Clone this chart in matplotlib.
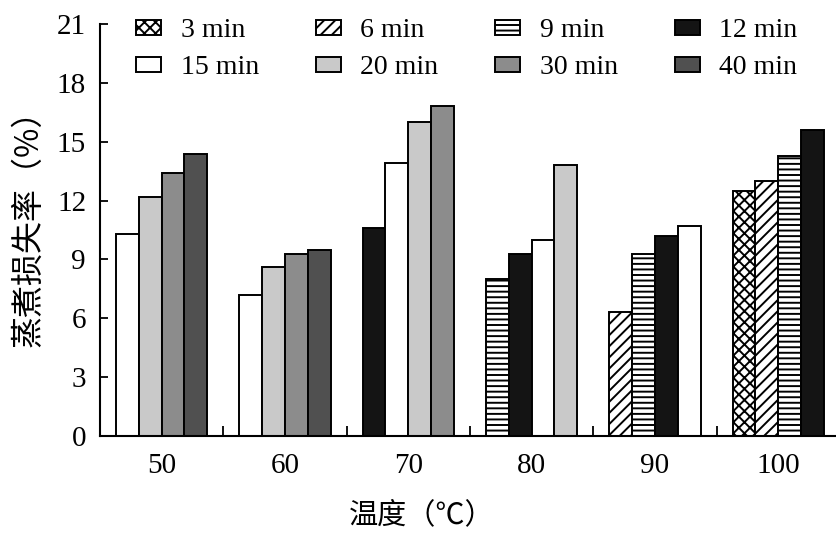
import numpy as np
import matplotlib
matplotlib.use("Agg")
import matplotlib.pyplot as plt

# 蒸煮损失率 data
temps = ["50", "60", "70", "80", "90", "100"]
durations = ["3 min", "6 min", "9 min", "12 min", "15 min", "20 min", "30 min", "40 min"]
nan = np.nan
min3 = [nan, nan, nan, nan, nan, 12.5]
min6 = [nan, nan, nan, nan, 6.3, 13.0]
min9 = [nan, nan, nan, 8.0, 9.3, 14.3]
min12 = [nan, nan, 10.6, 9.3, 10.2, 15.6]
min15 = [10.3, 7.2, 13.9, 10.0, 10.7, nan]
min20 = [12.2, 8.6, 16.0, 13.8, nan, nan]
min30 = [13.4, 9.3, 16.8, nan, nan, nan]
min40 = [14.4, 9.5, nan, nan, nan, nan]
series = [min3, min6, min9, min12, min15, min20, min30, min40]

colors = ["white", "white", "white", "#141414", "white", "#c9c9c9", "#8c8c8c", "#505050"]
hatches = ["xxx", "///", "---", None, None, None, None, None]

plt.rcParams["hatch.linewidth"] = 1.4
serif = ["Liberation Serif", "Noto Sans CJK SC"]
cjk = ["Noto Sans CJK SC", "Liberation Serif"]

fig = plt.figure(figsize=(8.36, 5.35), dpi=100)
ax = fig.add_axes([0.1196, 0.185, 0.885, 0.770])

bar_w = 0.185
data = np.array(series, dtype=float)
handles = []
for s, vals in enumerate(series):
    xs, ys = [], []
    for g in range(len(temps)):
        if np.isnan(vals[g]):
            continue
        present = [k for k in range(len(series)) if not np.isnan(data[k, g])]
        pos = present.index(s)
        xs.append(g + (pos - (len(present) - 1) / 2) * bar_w)
        ys.append(vals[g])
    h = ax.bar(xs, ys, width=bar_w, color=colors[s], edgecolor="black",
               linewidth=1.4, hatch=hatches[s], label=durations[s])
    handles.append(h)

ax.set_xlim(-0.5, 5.5)
ax.set_ylim(0, 21)
ax.set_yticks(np.arange(0, 22, 3))
ax.set_xticks(range(len(temps)))
ax.set_xticklabels(temps)
ax.set_xticks(np.arange(0.5, 5.5, 1), minor=True)
ax.tick_params(axis="x", which="major", length=0, pad=12)
ax.tick_params(axis="x", which="minor", direction="in", length=7, width=1.3)
ax.tick_params(axis="y", direction="in", length=6, width=1.3, pad=10)
for lab in ax.get_xticklabels() + ax.get_yticklabels():
    lab.set_fontfamily(serif)
    lab.set_fontsize(21)

for sp in ["top", "right"]:
    ax.spines[sp].set_visible(False)
for sp in ["left", "bottom"]:
    ax.spines[sp].set_linewidth(1.5)

ax.set_ylabel("蒸煮损失率（%）", family=cjk, fontsize=23)
ax.yaxis.set_label_coords(-0.075, 0.524)
ax.set_xlabel("温度（℃）", family=cjk, fontsize=21)
ax.xaxis.set_label_coords(0.435, -0.155)

# legend: 2 rows x 4 columns, filled row-wise
order = [0, 4, 1, 5, 2, 6, 3, 7]
leg = ax.legend([handles[i] for i in order], [durations[i] for i in order],
                ncol=4, loc="upper left", bbox_to_anchor=(0.143, 0.997),
                bbox_transform=fig.transFigure, frameon=False,
                prop={"family": serif, "size": 20}, handlelength=0.9,
                handleheight=0.45, handletextpad=0.7, columnspacing=2.05,
                labelspacing=0.42, borderpad=0.1)

fig.savefig("out.png", dpi=100)
